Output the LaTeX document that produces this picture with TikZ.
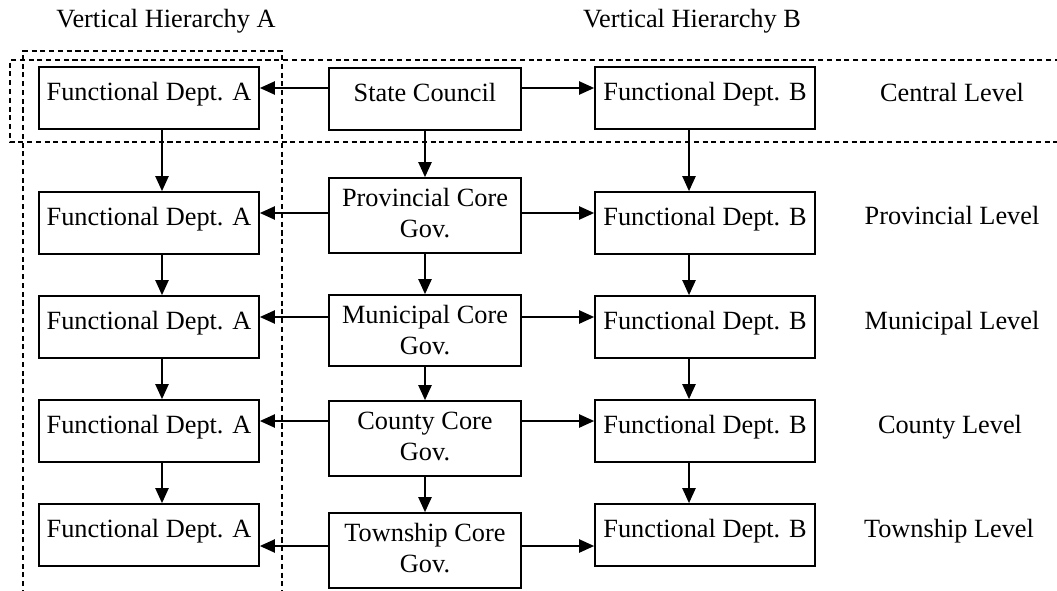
\documentclass[tikz,border=0pt]{standalone}
\usepackage{fontspec}
\setmainfont{Liberation Serif}
\usetikzlibrary{arrows.meta}

\newlength{\du}
\setlength{\du}{0.456pt}

\tikzset{
  lbl/.style={anchor=base, inner sep=0pt, font=\fontsize{12pt}{13.7pt}\selectfont},
  dept/.style={draw, line width=0.8pt, inner xsep=0pt, inner ysep=0pt, minimum width=220\du,
    text height=33\du, text depth=29\du, anchor=base, font=\fontsize{12pt}{13.7pt}\selectfont},
  core/.style={dept, minimum width=192\du, align=center, text height=59\du, text depth=16\du},
  link/.style={line width=0.7pt, -{Triangle[length=6.8pt,width=6pt]}},
  frame/.style={line width=0.5pt, dash pattern=on 2.3pt off 1.7pt}
}

\begin{document}
\begin{tikzpicture}
\pgftransformxscale{1.000000}
\pgftransformyscale{-1.000000}
\useasboundingbox (0\du,0\du) rectangle (1057\du,590\du);
% lines the connectors run on
\coordinate (ca) at (162\du,0\du);
\coordinate (cb) at (689\du,0\du);
\coordinate (r1) at (0\du,88\du);
\coordinate (r2) at (0\du,213\du);
\coordinate (r3) at (0\du,317\du);
\coordinate (r4) at (0\du,421\du);
\coordinate (r5) at (0\du,546\du);
% titles of the two hierarchies
\node[lbl] (ha) at (166\du,28\du){Vertical Hierarchy A};
\node[lbl] (hb) at (692\du,28\du){Vertical Hierarchy B};
% dashed frames
\draw[frame] (1060\du,60\du)--(10\du,60\du)--(10\du,142\du)--(1060\du,142\du);
\draw[frame] (23\du,595\du)--(23\du,51\du)--(282\du,51\du)--(282\du,595\du);
% hierarchy A
\node[dept] (fa1) at (149\du,100\du){Functional Dept. A};
\node[dept] (fa2) at (149\du,225\du){Functional Dept. A};
\node[dept] (fa3) at (149\du,329\du){Functional Dept. A};
\node[dept] (fa4) at (149\du,433\du){Functional Dept. A};
\node[dept] (fa5) at (149\du,537\du){Functional Dept. A};
% core governments (base is the second line)
\node[dept, minimum width=192\du] (sc) at (425\du,101\du){State Council};
\node[core] (prov) at (425\du,237\du){Provincial Core\\Gov.};
\node[core, text depth=12\du] (mun) at (425\du,354\du){Municipal Core\\Gov.};
\node[core] (cty) at (425\du,460\du){County Core\\Gov.};
\node[core] (twn) at (425\du,572\du){Township Core\\Gov.};
% hierarchy B
\node[dept] (fb1) at (705\du,100\du){Functional Dept. B};
\node[dept] (fb2) at (705\du,225\du){Functional Dept. B};
\node[dept] (fb3) at (705\du,329\du){Functional Dept. B};
\node[dept] (fb4) at (705\du,433\du){Functional Dept. B};
\node[dept] (fb5) at (705\du,537\du){Functional Dept. B};
% levels
\node[lbl] (lv1) at (952\du,101\du){Central Level};
\node[lbl] (lv2) at (952\du,224\du){Provincial Level};
\node[lbl] (lv3) at (952\du,329\du){Municipal Level};
\node[lbl] (lv4) at (950\du,433\du){County Level};
\node[lbl] (lv5) at (949\du,537\du){Township Level};
% core to departments
\draw[link] (sc.west |- r1)--(fa1.east |- r1);
\draw[link] (sc.east |- r1)--(fb1.west |- r1);
\draw[link] (prov.west |- r2)--(fa2.east |- r2);
\draw[link] (prov.east |- r2)--(fb2.west |- r2);
\draw[link] (mun.west |- r3)--(fa3.east |- r3);
\draw[link] (mun.east |- r3)--(fb3.west |- r3);
\draw[link] (cty.west |- r4)--(fa4.east |- r4);
\draw[link] (cty.east |- r4)--(fb4.west |- r4);
\draw[link] (twn.west |- r5)--(fa5.east |- r5);
\draw[link] (twn.east |- r5)--(fb5.west |- r5);
% down the hierarchies
\draw[link] (fa1.south -| ca)--(fa2.north -| ca);
\draw[link] (fa2.south -| ca)--(fa3.north -| ca);
\draw[link] (fa3.south -| ca)--(fa4.north -| ca);
\draw[link] (fa4.south -| ca)--(fa5.north -| ca);
\draw[link] (sc.south)--(prov.north);
\draw[link] (prov.south)--(mun.north);
\draw[link] (mun.south)--(cty.north);
\draw[link] (cty.south)--(twn.north);
\draw[link] (fb1.south -| cb)--(fb2.north -| cb);
\draw[link] (fb2.south -| cb)--(fb3.north -| cb);
\draw[link] (fb3.south -| cb)--(fb4.north -| cb);
\draw[link] (fb4.south -| cb)--(fb5.north -| cb);
\end{tikzpicture}
\end{document}
